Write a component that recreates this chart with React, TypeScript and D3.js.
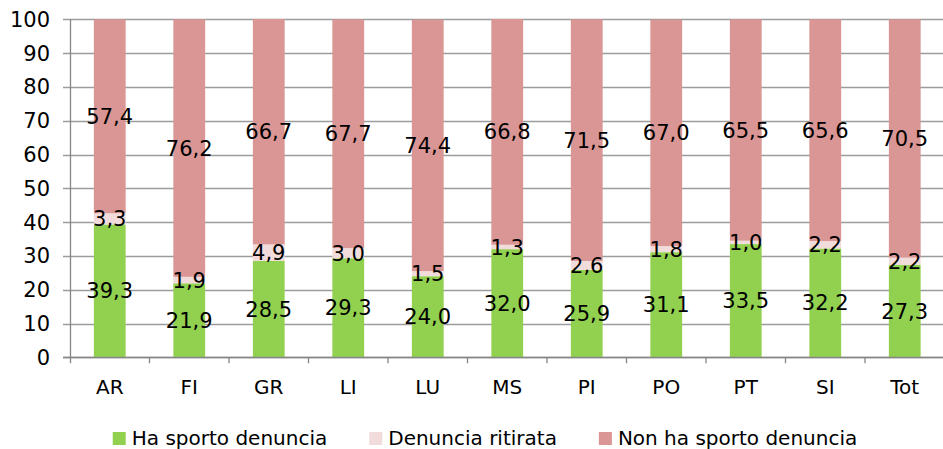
import * as d3 from "d3";
import { useEffect, useRef } from "react";

const categories = ["AR", "FI", "GR", "LI", "LU", "MS", "PI", "PO", "PT", "SI", "Tot"];
const haSporto = [39.3, 21.9, 28.5, 29.3, 24.0, 32.0, 25.9, 31.1, 33.5, 32.2, 27.3];
const ritirata = [3.3, 1.9, 4.9, 3.0, 1.5, 1.3, 2.6, 1.8, 1.0, 2.2, 2.2];
const nonHa = [57.4, 76.2, 66.7, 67.7, 74.4, 66.8, 71.5, 67.0, 65.5, 65.6, 70.5];
const seriesNames = ["Ha sporto denuncia", "Denuncia ritirata", "Non ha sporto denuncia"];
const colors = ["#92D050", "#F2DCDB", "#D99694"];
const yTicks = [0, 10, 20, 30, 40, 50, 60, 70, 80, 90, 100];

const W = 943;
const H = 449;
const FONT = "'DejaVu Sans', sans-serif";

export default function App() {
  const ref = useRef<SVGSVGElement>(null);

  useEffect(() => {
    document.body.style.margin = "0";
    const svg = d3.select(ref.current);
    svg.selectAll("*").remove();

    const x = d3.scaleBand().domain(categories).range([70, 944.5]).padding(0);
    const y = d3.scaleLinear().domain([0, 100]).range([357.3, 19.3]);
    const barW = x.bandwidth() * 0.4;

    // gridlines + y ticks
    svg
      .append("g")
      .selectAll("line")
      .data(yTicks)
      .enter()
      .append("line")
      .attr("x1", 63)
      .attr("x2", W)
      .attr("y1", (d) => Math.round(y(d)) + 0.5)
      .attr("y2", (d) => Math.round(y(d)) + 0.5)
      .attr("stroke", "#9c9c9c")
      .attr("stroke-width", 1.3);

    svg
      .append("g")
      .selectAll("text")
      .data(yTicks)
      .enter()
      .append("text")
      .attr("x", 50)
      .attr("y", (d) => y(d))
      .attr("dy", "0.36em")
      .attr("text-anchor", "end")
      .style("font-family", FONT)
      .style("font-size", "21px")
      .attr("fill", "#000")
      .text((d) => d);

    // stacked bars
    const stack = categories.map((c, i) => {
      const vals = [haSporto[i], ritirata[i], nonHa[i]];
      let acc = 0;
      return vals.map((v, s) => {
        const seg = { cat: c, s, v, y0: acc, y1: acc + v };
        acc += v;
        return seg;
      });
    });
    const segs = stack.flat();

    svg
      .append("g")
      .selectAll("rect")
      .data(segs)
      .enter()
      .append("rect")
      .attr("x", (d) => (x(d.cat) as number) + (x.bandwidth() - barW) / 2)
      .attr("y", (d) => y(d.y1))
      .attr("width", barW)
      .attr("height", (d) => y(d.y0) - y(d.y1))
      .attr("fill", (d) => colors[d.s]);

    // axes lines
    svg
      .append("line")
      .attr("x1", 70.5)
      .attr("x2", 70.5)
      .attr("y1", y(100))
      .attr("y2", y(0) + 6)
      .attr("stroke", "#868686")
      .attr("stroke-width", 1.3);
    svg
      .append("line")
      .attr("x1", 63)
      .attr("x2", W)
      .attr("y1", Math.round(y(0)) + 0.5)
      .attr("y2", Math.round(y(0)) + 0.5)
      .attr("stroke", "#868686")
      .attr("stroke-width", 1.3);
    svg
      .append("g")
      .selectAll("line")
      .data(categories)
      .enter()
      .append("line")
      .attr("x1", (d) => (x(d) as number) + x.bandwidth())
      .attr("x2", (d) => (x(d) as number) + x.bandwidth())
      .attr("y1", y(0))
      .attr("y2", y(0) + 6)
      .attr("stroke", "#868686")
      .attr("stroke-width", 1.3);

    // data labels
    svg
      .append("g")
      .selectAll("text")
      .data(segs)
      .enter()
      .append("text")
      .attr("x", (d) => (x(d.cat) as number) + x.bandwidth() / 2)
      .attr("y", (d) => y((d.y0 + d.y1) / 2))
      .attr("dy", "0.36em")
      .attr("text-anchor", "middle")
      .style("font-family", FONT)
      .style("font-size", "21px")
      .attr("fill", "#000")
      .text((d) => d3.format(".1f")(d.v).replace(".", ","));

    // category labels
    svg
      .append("g")
      .selectAll("text")
      .data(categories)
      .enter()
      .append("text")
      .attr("x", (d) => (x(d) as number) + x.bandwidth() / 2)
      .attr("y", 394)
      .attr("text-anchor", "middle")
      .style("font-family", FONT)
      .style("font-size", "20px")
      .attr("fill", "#000")
      .text((d) => d);

    // legend
    const leg = svg.append("g");
    const items = seriesNames.map((name, i) => {
      const g = leg.append("g");
      g.append("rect").attr("width", 13).attr("height", 13).attr("y", 432).attr("fill", colors[i]);
      const t = g
        .append("text")
        .attr("x", 19)
        .attr("y", 445)
        .style("font-family", FONT)
        .style("font-size", "20px")
        .attr("fill", "#000")
        .text(name);
      const len = (t.node() as SVGTextElement).getComputedTextLength();
      return { g, w: 19 + len };
    });
    const gap = 42;
    const total = d3.sum(items, (d) => d.w) + gap * (items.length - 1);
    let cx = 485 - total / 2;
    items.forEach((it) => {
      it.g.attr("transform", `translate(${cx},0)`);
      cx += it.w + gap;
    });
  }, []);

  return <svg ref={ref} width={W} height={H} style={{ display: "block", background: "#fff" }}></svg>;
}
